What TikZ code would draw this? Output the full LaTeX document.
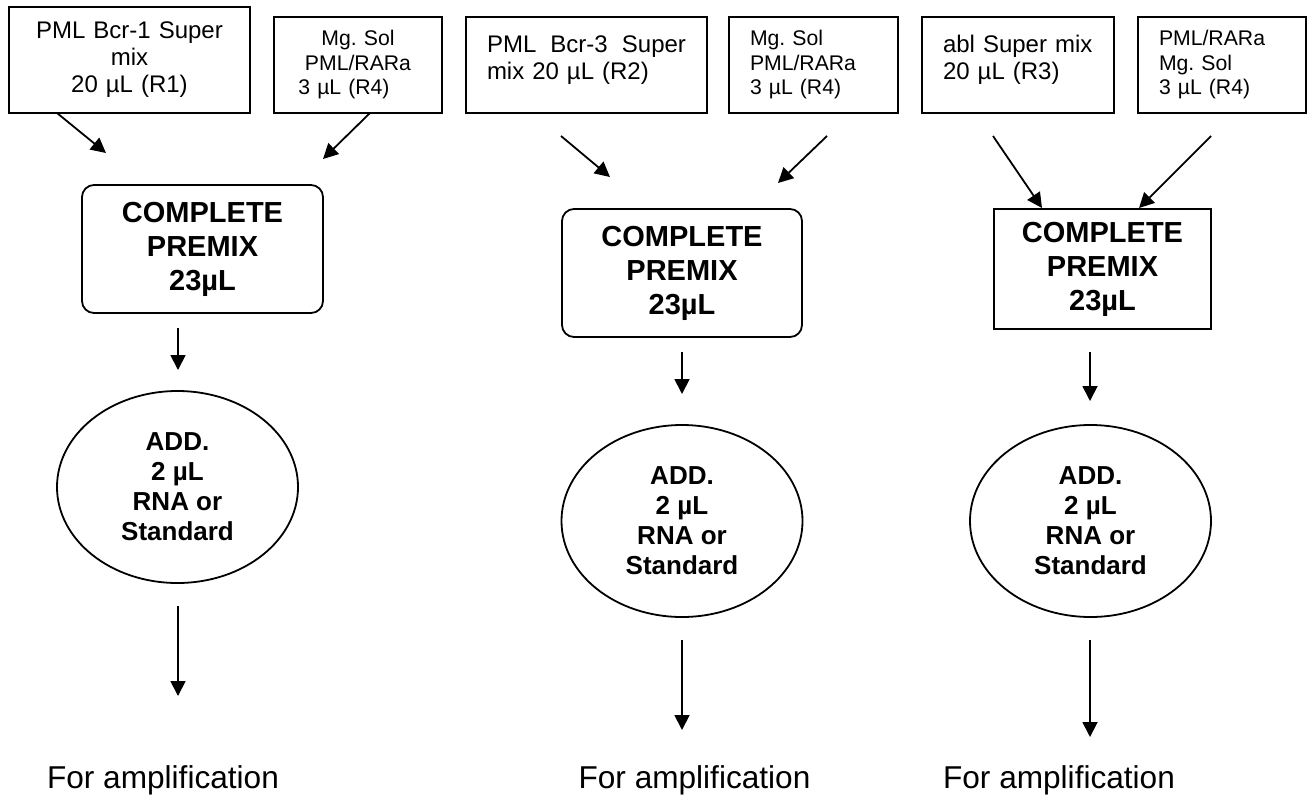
\documentclass[tikz,border=0pt]{standalone}
\usepackage{fontspec}
\setmainfont{Liberation Sans}
\frenchspacing
\usetikzlibrary{arrows.meta,shapes.geometric}
\tikzset{
    x={1pt},
    y={-1pt},
    reagent box/.style={
        draw, line width={1.8pt},
        text width={#1},
        inner xsep={21pt},
        minimum height={96},
        align=left,
        font={\fontsize{24}{27}\selectfont},
    },
    small reagent/.style={
        reagent box={#1},
        font={\fontsize{21.2}{24.5}\selectfont},
    },
    top aligned/.style={
        text height={17pt},
        text depth={43pt},
    },
    premix box/.style={
        draw, line width={1.8pt},
        minimum width={#1},
        minimum height={128},
        align=center,
        font={\bfseries\fontsize{29}{34}\selectfont},
    },
    sample ellipse/.style={
        ellipse, draw, line width={1.8pt},
        minimum width={241},
        minimum height={192},
        inner sep=0pt,
        align=center,
        font={\bfseries\fontsize{26}{30}\selectfont},
    },
    amplification label/.style={
        anchor=base,
        font={\fontsize{31.6}{38}\selectfont},
    },
    flow/.style={
        draw, line width={1.8pt},
        -{Triangle[length=15pt, width=15pt]},
    },
}

\begin{document}
\begin{tikzpicture}
\useasboundingbox (0,0) rectangle (1311,796);
% reagents
\node[reagent box={199}, minimum height={106}, align=center] (r1) at (129.5,60) {PML Bcr-1 Super\\mix\\20 µL (R1)};
\node[small reagent={126}, align=center] (r4a) at (358,65) {Mg. Sol\\PML/RARa\\3 µL (R4)\kern28pt\mbox{}};
\node[reagent box={199}, top aligned] (r2) at (586.5,65) {PML\hfill Bcr-3\hfill Super\\mix 20 µL (R2)};
\node[small reagent={127}] (r4b) at (813.5,65) {Mg. Sol\\PML/RARa\\3 µL (R4)};
\node[reagent box={150}, top aligned] (r3) at (1018,65) {abl Super mix\\20 µL (R3)};
\node[small reagent={126}] (r4c) at (1222,65) {PML/RARa\\Mg. Sol\\3 µL (R4)};
% premixes
\node[premix box={241}, rounded corners={12pt}] (premix1) at (202.5,249) {COMPLETE\\PREMIX\\23µL};
\node[premix box={240}, rounded corners={12pt}] (premix2) at (682,273) {COMPLETE\\PREMIX\\23µL};
\node[premix box={217}, minimum height={120}] (premix3) at (1102.5,269) {COMPLETE\\PREMIX\\23µL};
% samples
\node[sample ellipse] (add1) at (177.5,487) {ADD.\\2 µL\\RNA or\\Standard};
\node[sample ellipse] (add2) at (682,521) {ADD.\\2 µL\\RNA or\\Standard};
\node[sample ellipse] (add3) at (1090.5,521) {ADD.\\2 µL\\RNA or\\Standard};
% outputs
\node[amplification label] (amp1) at (163,788) {For amplification};
\node[amplification label] (amp2) at (694.5,788) {For amplification};
\node[amplification label] (amp3) at (1059,788) {For amplification};
% arrow ends
\coordinate (r1 tail) at (57,113);
\coordinate (r1 tip) at (106,153);
\coordinate (r4a tail) at (370,113);
\coordinate (r4a tip) at (323,159);
\coordinate (premix1 tail) at (178,328);
\coordinate (premix1 tip) at (178,370);
\coordinate (add1 tail) at (178,606);
\coordinate (add1 tip) at (178,696);
\coordinate (r2 tail) at (561,136);
\coordinate (r2 tip) at (610,177);
\coordinate (r4b tail) at (827,136);
\coordinate (r4b tip) at (778,183);
\coordinate (premix2 tail) at (682,352);
\coordinate (premix2 tip) at (682,394);
\coordinate (add2 tail) at (682,640);
\coordinate (add2 tip) at (682,730);
\coordinate (r3 tail) at (993,136);
\coordinate (r3 tip) at (1042,208);
\coordinate (r4c tail) at (1211,136);
\coordinate (r4c tip) at (1139,208);
\coordinate (premix3 tail) at (1090,352);
\coordinate (premix3 tip) at (1090,401);
\coordinate (add3 tail) at (1090,640);
\coordinate (add3 tip) at (1090,737);
% arrows
\draw[flow] (r1 tail) -- (r1 tip);
\draw[flow] (r4a tail) -- (r4a tip);
\draw[flow] (premix1 tail) -- (premix1 tip);
\draw[flow] (add1 tail) -- (add1 tip);
\draw[flow] (r2 tail) -- (r2 tip);
\draw[flow] (r4b tail) -- (r4b tip);
\draw[flow] (premix2 tail) -- (premix2 tip);
\draw[flow] (add2 tail) -- (add2 tip);
\draw[flow] (r3 tail) -- (r3 tip);
\draw[flow] (r4c tail) -- (r4c tip);
\draw[flow] (premix3 tail) -- (premix3 tip);
\draw[flow] (add3 tail) -- (add3 tip);
\end{tikzpicture}
\end{document}
